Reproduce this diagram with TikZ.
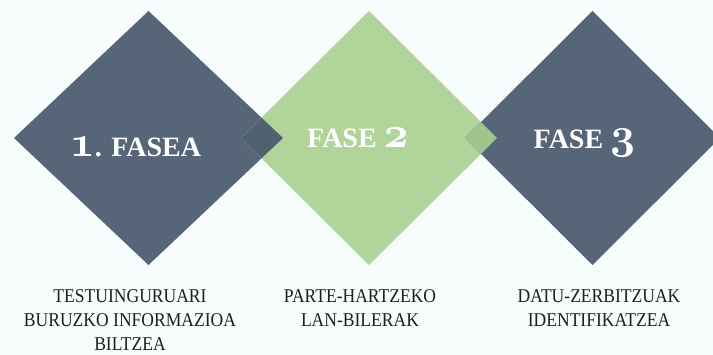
\documentclass[tikz,border=0pt]{standalone}
\usepackage{graphicx}
\usepackage{fontspec}
\setmainfont{Liberation Serif}
\newfontfamily\subfont{Liberation Serif}[FakeStretch=0.9]
\newfontfamily\labfont{Liberation Serif}
\definecolor{bgc}{RGB}{247,253,253}
\definecolor{slate}{RGB}{86,101,120}
\definecolor{leaf}{RGB}{176,212,153}
\definecolor{ovA}{RGB}{80,98,112}
\definecolor{ovB}{RGB}{160,196,140}
\definecolor{txt}{RGB}{30,30,30}
\newcommand\dgt[1]{\scalebox{1.75}{\fontsize{24.88}{24.88}\usefont{OML}{cmm}{b}{it}#1}}
\tikzset{
  phase/.style={text=white, inner sep=0pt, font=\labfont\bfseries\fontsize{28}{30}\selectfont},
  sub/.style={text=txt, inner sep=0pt, align=center, font=\subfont\fontsize{19.5}{24}\selectfont},
}
\begin{document}
\begin{tikzpicture}[x=1pt,y=-1pt]
\useasboundingbox (0,0) rectangle (713,355);
\fill[bgc] (0,0) rectangle (713,355);
\clip (0,0) rectangle (713,355);
\def\dA{(14,138) -- (148.5,11) -- (283,138) -- (148.5,265) -- cycle}
\def\dB{(241,138) -- (369,11) -- (497,138) -- (369,265) -- cycle}
\def\dC{(465,138) -- (592.5,11) -- (720,138) -- (592.5,265) -- cycle}
\fill[slate] \dA;
\fill[leaf] \dB;
\fill[slate] \dC;
\begin{scope}
  \clip \dA;
  \fill[ovA] \dB;
\end{scope}
\begin{scope}
  \clip \dC;
  \fill[ovB] \dB;
\end{scope}
\node[phase, anchor=base] (p1) at (135.5,157) {\dgt{1}. FASEA};
\node[phase, anchor=base] (p2) at (358,148) {FASE \dgt{2}};
\node[phase, anchor=base] (p3) at (584.5,149) {FASE \dgt{3}};
\node[sub, anchor=base, text depth=0pt] (s1) at (130,351) {TESTUINGURUARI\\BURUZKO INFORMAZIOA\\BILTZEA};
\node[sub, anchor=base] (s2) at (360,327) {PARTE-HARTZEKO\\LAN-BILERAK};
\node[sub, anchor=base] (s3) at (599,327) {DATU-ZERBITZUAK\\IDENTIFIKATZEA};
\end{tikzpicture}
\end{document}
